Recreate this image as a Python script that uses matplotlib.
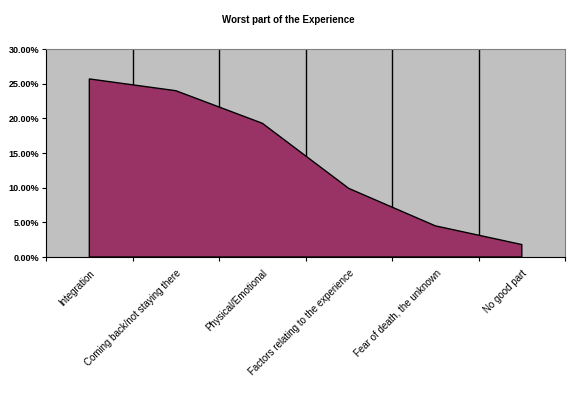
import matplotlib
matplotlib.use("Agg")
import matplotlib.pyplot as plt
import numpy as np
from matplotlib.ticker import PercentFormatter

categories = ["Integration", "Coming back/not staying there", "Physical/Emotional",
              "Factors relating to the experience", "Fear of death, the unknown", "No good part"]
shares = [25.7, 24.0, 19.3, 9.9, 4.5, 1.8]  # percent

plt.rcParams["font.family"] = ["Liberation Sans", "DejaVu Sans"]

fig = plt.figure(figsize=(5.76, 3.93), dpi=100)
ax = fig.add_axes([0.080, 0.346, 0.901, 0.529])
ax.set_facecolor("#C0C0C0")

x = np.arange(len(categories))
# vertical gridlines between categories
for b in x[:-1] + 0.5:
  ax.axvline(b, color="black", lw=1, zorder=1)

px = np.concatenate([[x[0]], x, [x[-1]]])
py = np.concatenate([[0], shares, [0]])
ax.fill(px, py, facecolor="#993366", edgecolor="black", lw=1, zorder=2)

ax.set_xlim(-0.5, len(categories) - 0.5)
ax.set_ylim(0, 30)
ax.set_yticks(np.arange(0, 31, 5))
ax.yaxis.set_major_formatter(PercentFormatter(decimals=2))
ax.set_xticks(np.arange(-0.5, len(categories)))
ax.set_xticklabels([])
ax.set_xticks(x, minor=True)
ax.set_xticklabels(categories, minor=True, rotation=45, ha="right", va="top",
                   rotation_mode="anchor", fontsize=7)
ax.tick_params(axis="x", which="minor", length=0, pad=8)
ax.tick_params(axis="x", which="major", direction="out", length=3, color="black")
ax.tick_params(axis="y", direction="out", length=3, labelsize=6.5, pad=2)
for lab in ax.get_yticklabels():
  lab.set_fontweight("bold")

for s in ["left", "bottom"]:
  ax.spines[s].set_color("black")
for s in ["top", "right"]:
  ax.spines[s].set_color("#808080")

fig.text(0.5, 0.948, "Worst part of the Experience", ha="center", va="center",
         fontsize=7, fontweight="bold")

fig.savefig("out.png", dpi=100)
